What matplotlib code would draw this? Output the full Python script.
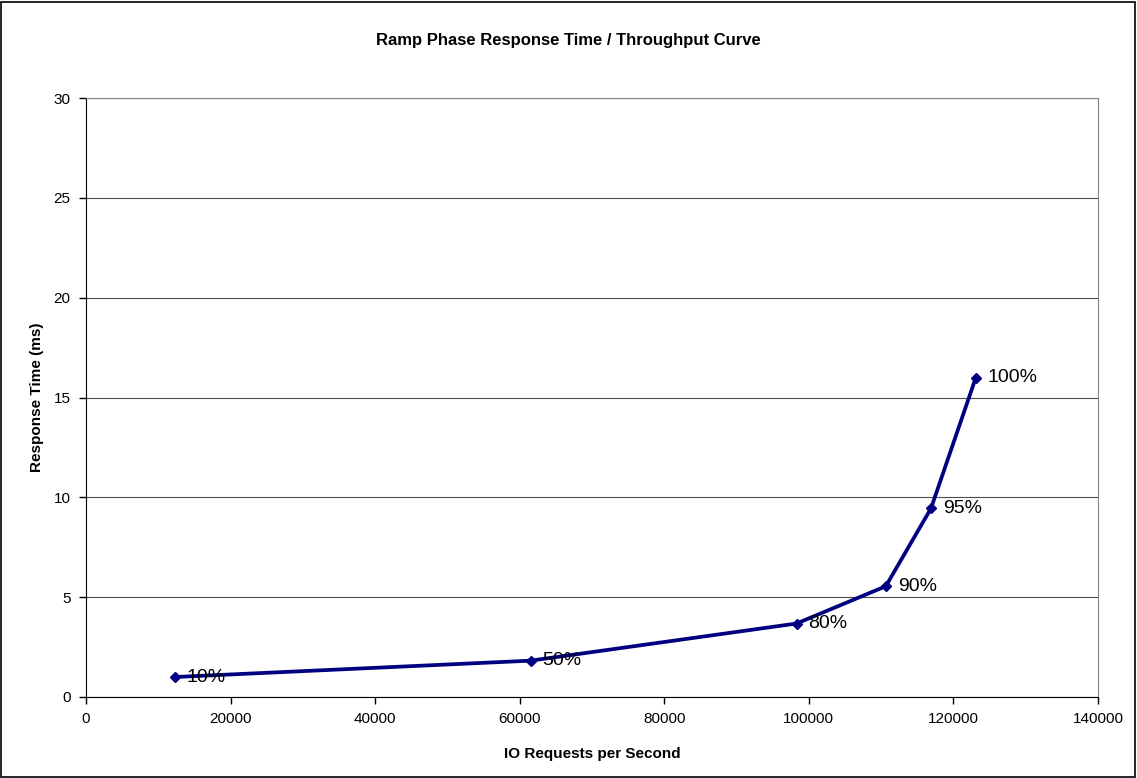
import matplotlib
matplotlib.use('Agg')
from matplotlib import pyplot as plt
from matplotlib.patches import Rectangle

plt.rcParams['font.family'] = ['Liberation Sans', 'DejaVu Sans']

# data
iops = [12250, 61500, 98300, 110650, 116900, 123100]
resp_ms = [1.0, 1.82, 3.68, 5.55, 9.45, 16.0]
pct_labels = ['10%', '50%', '80%', '90%', '95%', '100%']

line_c = '#000080'
grid_c = '#808080'

fig = plt.figure(figsize=(11.37, 7.78), dpi=100)
ax = fig.add_axes([86/1137, 81/778, 1012/1137, 599/778])

ax.plot(iops, resp_ms, color=line_c, lw=2.7, marker='D', ms=5, zorder=3)
for x, y, lab in zip(iops, resp_ms, pct_labels):
    ax.annotate(lab, (x, y), xytext=(8.5, 0), textcoords='offset points',
                va='center', ha='left', fontsize=14, color='black')

ax.set_xlim(0, 140000)
ax.set_ylim(0, 30)
ax.set_xticks(range(0, 140001, 20000))
ax.set_yticks(range(0, 31, 5))
ax.yaxis.grid(True, color='black', lw=0.8, alpha=0.7)
ax.set_axisbelow(True)

for s in ['top', 'right']:
    ax.spines[s].set_color(grid_c)
for s in ['left', 'bottom']:
    ax.spines[s].set_color('black')
ax.tick_params(direction='out', length=5, width=1, labelsize=11, pad=6)

ax.set_xlabel('IO Requests per Second', fontsize=11, fontweight='bold', labelpad=15)
ax.set_ylabel('Response Time (ms)', fontsize=11, fontweight='bold', labelpad=7)
fig.text(0.5, 1 - 40/778, 'Ramp Phase Response Time / Throughput Curve',
         ha='center', va='center', fontsize=12, fontweight='bold')

# outer border
fig.patches.append(Rectangle((0.001, 0.001), 0.997, 0.997, transform=fig.transFigure,
                             fill=False, ec='black', lw=1.2))

plt.savefig('out.png', dpi=100)
